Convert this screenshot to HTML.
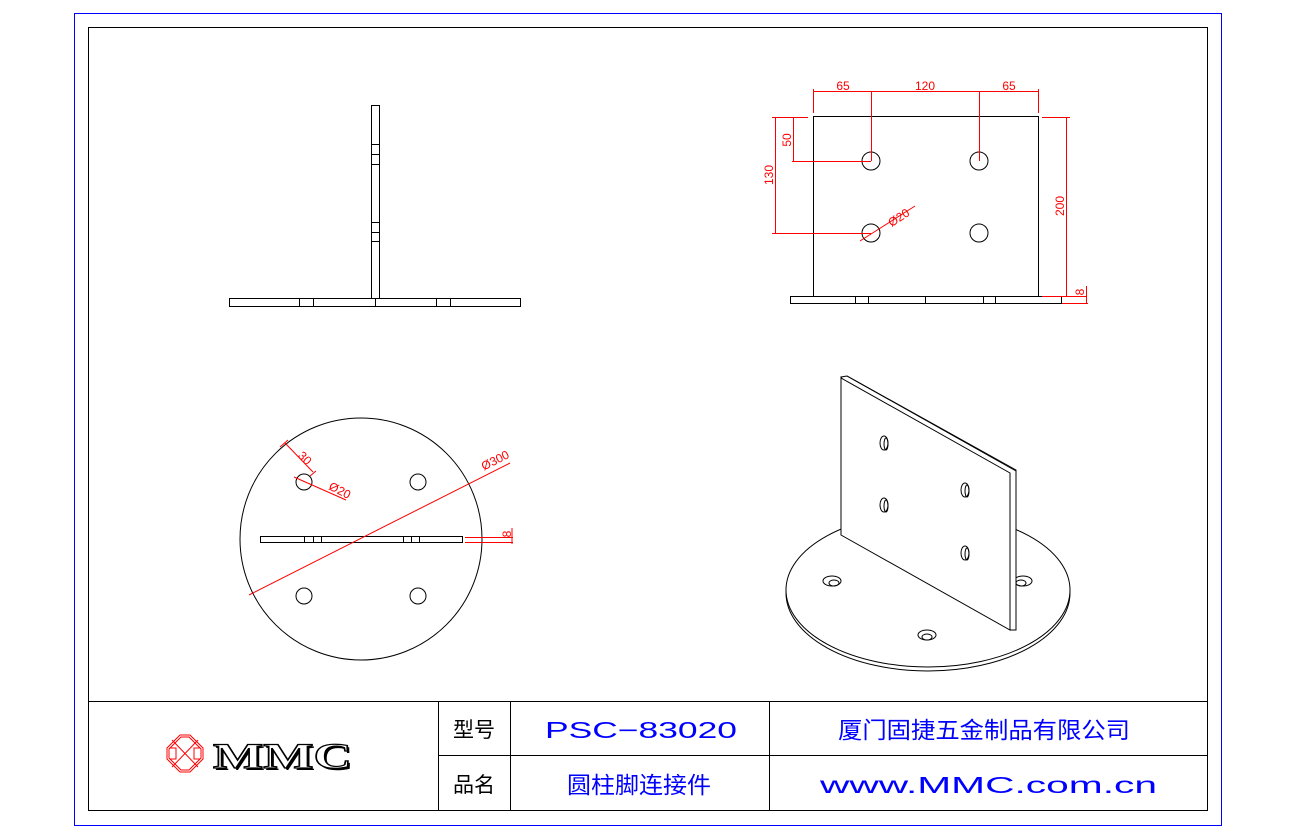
<!DOCTYPE html>
<html><head><meta charset="utf-8"><style>
body{margin:0;background:#fff;width:1300px;height:840px;overflow:hidden}
svg{display:block}
.k{fill:none;stroke:#000;stroke-width:1}
.r{fill:none;stroke:#f00;stroke-width:1}
.rt{fill:#f00;font-family:"Liberation Sans",sans-serif;font-size:12px}
.bt{fill:#00f;font-family:"Liberation Sans","Noto Sans CJK SC",sans-serif;font-size:23px}
.ct{fill:#000;font-family:"Liberation Sans","Noto Sans CJK SC",sans-serif;font-size:21px}
</style></head><body>
<svg width="1300" height="840" viewBox="0 0 1300 840">
<rect x="74.5" y="13.5" width="1147" height="812" fill="none" stroke="#00f"/>
<rect x="88.5" y="27.5" width="1119" height="783" class="k"/>
<line x1="88" y1="701.5" x2="1207" y2="701.5" stroke="#000"/>
<line x1="438" y1="755.5" x2="1207" y2="755.5" stroke="#000"/>
<line x1="438.5" y1="701" x2="438.5" y2="810" stroke="#000"/>
<line x1="510.5" y1="701" x2="510.5" y2="810" stroke="#000"/>
<line x1="769.5" y1="701" x2="769.5" y2="810" stroke="#000"/>
<text x="474" y="737" class="ct" text-anchor="middle">型号</text>
<text x="474" y="792" class="ct" text-anchor="middle">品名</text>
<text x="545" y="738" class="bt" textLength="192" lengthAdjust="spacingAndGlyphs">PSC−83020</text>
<text x="567" y="793" class="bt" textLength="144" lengthAdjust="spacingAndGlyphs">圆柱脚连接件</text>
<text x="838" y="738" class="bt" textLength="292" lengthAdjust="spacingAndGlyphs">厦门固捷五金制品有限公司</text>
<text x="820" y="793" class="bt" textLength="337" lengthAdjust="spacingAndGlyphs">www.MMC.com.cn</text>
<g fill="none" stroke="#f00">
<polygon points="180,735 190,735 203,748 203,759 190,772 180,772 167,759 167,748"/>
<polygon points="181,737 189,737 201,749 201,758 189,770 181,770 169,758 169,749"/>
<line x1="172" y1="740" x2="198" y2="767"/><line x1="198" y1="740" x2="172" y2="767"/>
<polyline points="170,748 176,748 176,759 170,759"/><polyline points="200,748 194,748 194,759 200,759"/>
</g>
<text x="215" y="770" font-family="Liberation Serif,serif" font-weight="bold" font-size="36" fill="#000" textLength="139" lengthAdjust="spacingAndGlyphs">MMC</text>
<text x="213" y="768" font-family="Liberation Serif,serif" font-weight="bold" font-size="36" fill="#fff" stroke="#000" stroke-width="1.2" textLength="139" lengthAdjust="spacingAndGlyphs">MMC</text>
<rect x="371.5" y="105.5" width="8" height="193" class="k"/>
<path class="k" d="M371 144.5h8M371 154.5h8M371 164.5h8M371 222.5h8M371 232.5h8M371 241.5h8"/>
<rect x="229.5" y="298.5" width="291" height="8" class="k"/>
<path class="k" d="M299.5 298v9M313.5 298v9M375.5 298v9M436.5 298v9M450.5 298v9"/>
<rect x="813.5" y="116.5" width="225" height="180" class="k"/>
<circle cx="871" cy="161" r="9" class="k"/><circle cx="979" cy="161" r="9" class="k"/>
<circle cx="871" cy="233" r="9" class="k"/><circle cx="979" cy="233" r="9" class="k"/>
<rect x="790.5" y="296.5" width="271" height="7" class="k"/>
<path class="k" d="M855.5 296v7M868.5 296v7M925.5 296v7M983.5 296v7M995.5 296v7"/>
<g class="r">
<path d="M813.5 89v24M1038.5 89v24M813 91.5h226M871.5 91v70M979.5 91v70"/>
<path d="M772 117.5h36M775.5 117v116M772 233.5h99M793.5 117v44M792 161.5h79"/>
<path d="M1042 117.5h28M1066.5 117v179M1042 296.5h44M1086.5 286v17M1062 303.5h26"/>
<path d="M860 241L915 206"/>
</g>
<text x="843" y="90" class="rt" text-anchor="middle">65</text>
<text x="925" y="90" class="rt" text-anchor="middle">120</text>
<text x="1009" y="90" class="rt" text-anchor="middle">65</text>
<text transform="translate(791,140) rotate(-90)" class="rt" text-anchor="middle">50</text>
<text transform="translate(773,175) rotate(-90)" class="rt" text-anchor="middle">130</text>
<text transform="translate(1064,206) rotate(-90)" class="rt" text-anchor="middle">200</text>
<text transform="translate(1084,292) rotate(-90)" class="rt" text-anchor="middle">8</text>
<text transform="translate(901,221) rotate(-33)" class="rt" text-anchor="middle">Ø20</text>
<circle cx="361" cy="539" r="121" class="k"/>
<circle cx="304" cy="482" r="8" class="k"/><circle cx="418" cy="482" r="8" class="k"/>
<circle cx="304" cy="596" r="8" class="k"/><circle cx="418" cy="596" r="8" class="k"/>
<rect x="260.5" y="536.5" width="202" height="6" class="k"/>
<path class="k" d="M304.5 536v6M313.5 536v6M321.5 536v6M403.5 536v6M411.5 536v6M419.5 536v6"/>
<g class="r">
<path d="M249 595L510 463"/>
<path d="M285 443L313 472M280 447L288 440M294 477L346 500M310 476L316 471"/>
<path d="M465 537.5h48M465 542.5h48M512 528v16"/>
</g>
<text transform="translate(302,461) rotate(45)" class="rt" text-anchor="middle">30</text>
<text transform="translate(338,494) rotate(27)" class="rt" text-anchor="middle">Ø20</text>
<text transform="translate(497,464) rotate(-27)" class="rt" text-anchor="middle">Ø300</text>
<text transform="translate(511,534) rotate(-90)" class="rt" text-anchor="middle">8</text>
<ellipse cx="928" cy="593" rx="142" ry="78" class="k"/>
<ellipse cx="928" cy="590" rx="142" ry="77" fill="#fff" stroke="#000"/>
<ellipse cx="832" cy="581" rx="9" ry="5" class="k"/><ellipse cx="834" cy="583" rx="5" ry="3" class="k"/>
<ellipse cx="1023" cy="581" rx="9" ry="5" class="k"/><ellipse cx="1021" cy="583" rx="5" ry="3" class="k"/>
<ellipse cx="927" cy="635" rx="9" ry="5" class="k"/><ellipse cx="927" cy="637" rx="5" ry="3" class="k"/>
<polygon points="841,377 847,376 1016,470 1016,630 1010,630" fill="#fff" stroke="#000"/>
<polygon points="841,378 1010,473 1010,630 841,535" fill="#fff" stroke="#000"/>
<line x1="847" y1="376" x2="1016" y2="471" stroke="#000"/>
<g class="k">
<ellipse cx="884" cy="443" rx="4" ry="7"/><ellipse cx="886" cy="444" rx="2" ry="6"/>
<ellipse cx="884" cy="505" rx="4" ry="7"/><ellipse cx="886" cy="506" rx="2" ry="6"/>
<ellipse cx="965" cy="490" rx="4" ry="7"/><ellipse cx="967" cy="491" rx="2" ry="6"/>
<ellipse cx="965" cy="553" rx="4" ry="7"/><ellipse cx="967" cy="554" rx="2" ry="6"/>
</g>
</svg>
</body></html>
